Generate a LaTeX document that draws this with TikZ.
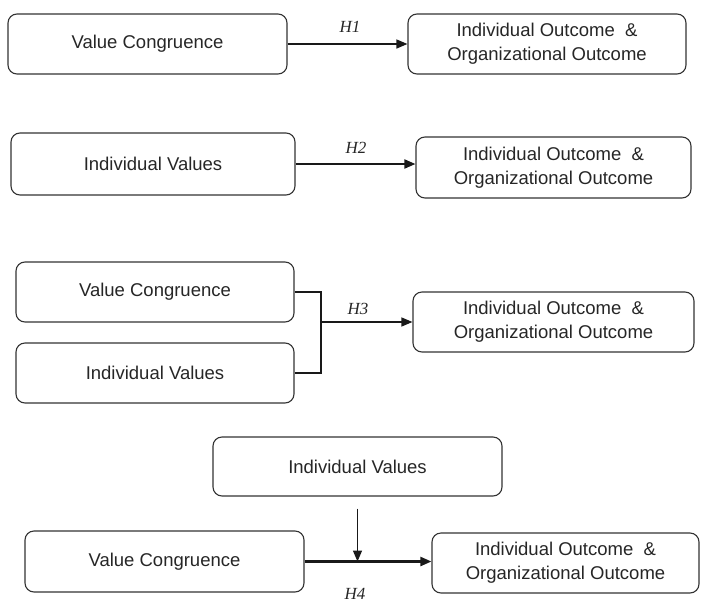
\documentclass[tikz,border=0pt]{standalone}
\usepackage{fontspec}
\setmainfont{Liberation Sans}
\newfontfamily\hypfont{Liberation Serif}
\usetikzlibrary{arrows.meta}
\tikzset{box/.style={draw=black!80, line width=1.1pt, rounded corners=9pt,
      minimum width=279pt, minimum height=60pt, inner sep=0pt, align=center,
      text=black!85, font=\fontsize{18.5}{24}\selectfont}}
\tikzset{hyp/.style={text=black!85, font=\hypfont\itshape\fontsize{17}{17}\selectfont}}
\tikzset{arr/.style={-{Triangle[length=11pt,width=9pt]}, line width=1.4pt, draw=black!90}}

\begin{document}
\begin{tikzpicture}[x=1pt, y=-1pt]
    \useasboundingbox (0,0) rectangle (702,603);
    % H1
    \node[box] (vc1) at (147.5,44) {Value Congruence};
    \node[box, minimum width=278pt] (out1) at (547,44) {Individual Outcome\ \ \&\\Organizational Outcome};
    \draw[arr] (vc1.east) -- (out1.west);
    \node[hyp] (h1) at (350,27) {H1};
    % H2
    \node[box, minimum width=284pt, minimum height=62pt] (iv2) at (153,164) {Individual Values};
    \node[box, minimum width=275pt, minimum height=61pt] (out2) at (553.5,167.5) {Individual Outcome\ \ \&\\Organizational Outcome};
    \draw[arr, line width=1.8pt] (iv2.east) -- (iv2.east -| out2.west);
    \node[hyp] (h2) at (356,148) {H2};
    % H3
    \node[box, minimum width=278pt] (vc3) at (155,292) {Value Congruence};
    \node[box, minimum width=278pt] (iv3) at (155,373) {Individual Values};
    \node[box, minimum width=281pt] (out3) at (553.5,322) {Individual Outcome\ \ \&\\Organizational Outcome};
    \coordinate (j3) at (321,322);
    \draw[line width=1.2pt, black!90] (vc3.east) -| (j3) |- (iv3.east);
    \draw[arr, line width=1.2pt] (j3) -- (out3.west);
    \node[hyp] (h3) at (358,309) {H3};
    % H4
    \node[box, minimum width=289pt, minimum height=59pt] (iv4) at (357.5,466.5) {Individual Values};
    \node[box, minimum height=61pt] (vc4) at (164.5,561.5) {Value Congruence};
    \node[box, minimum width=267pt] (out4) at (565.5,563) {Individual Outcome\ \ \&\\Organizational Outcome};
    \coordinate (v4) at ([yshift=-12pt]iv4.south);
    \draw[arr, line width=2.2pt] (vc4.east) -- (vc4.east -| out4.west);
    \draw[arr] (v4) -- (v4 |- vc4.east);
    \node[hyp] (h4) at (355,594) {H4};
\end{tikzpicture}
\end{document}
